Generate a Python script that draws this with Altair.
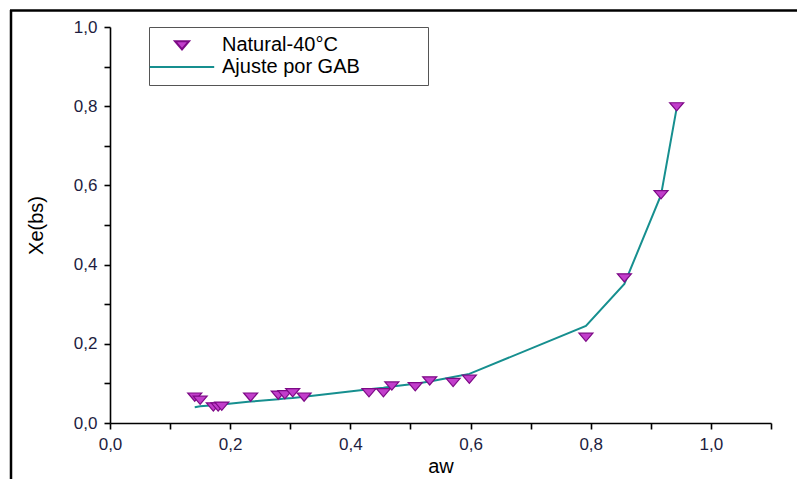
import altair as alt
import pandas as pd

# ---- data ----
aw_obs = [0.141, 0.150, 0.172, 0.180, 0.186, 0.234, 0.280, 0.291, 0.304, 0.323,
          0.431, 0.455, 0.469, 0.508, 0.532, 0.571, 0.598, 0.792, 0.856, 0.917, 0.943]
xe_obs = [0.066, 0.058, 0.041, 0.041, 0.043, 0.066, 0.071, 0.072, 0.077, 0.066,
          0.077, 0.077, 0.094, 0.092, 0.107, 0.103, 0.111, 0.217, 0.367, 0.577, 0.799]
aw_fit = [0.141, 0.150, 0.172, 0.180, 0.186, 0.234, 0.280, 0.291, 0.304, 0.323,
          0.431, 0.455, 0.469, 0.508, 0.532, 0.571, 0.598, 0.792, 0.856, 0.917, 0.943]
xe_fit = [0.040, 0.042, 0.045, 0.046, 0.047, 0.054, 0.060, 0.062, 0.063, 0.066,
          0.085, 0.089, 0.092, 0.099, 0.105, 0.116, 0.124, 0.245, 0.351, 0.576, 0.795]
series_names = ["Natural-40°C", "Ajuste por GAB"]
x_ticks = [0.0, 0.1, 0.2, 0.3, 0.4, 0.5, 0.6, 0.7, 0.8, 0.9, 1.0, 1.1]
y_ticks = [0.0, 0.1, 0.2, 0.3, 0.4, 0.5, 0.6, 0.7, 0.8, 0.9, 1.0]

pts = pd.DataFrame({"aw": aw_obs, "xe": xe_obs, "series": series_names[0]})
fit = pd.DataFrame({"aw": aw_fit, "xe": xe_fit, "series": series_names[1]})

PURPLE_FILL = "#c23ecb"
PURPLE_EDGE = "#7d0a86"
TEAL = "#168f8f"
TRI = "M-1,-0.55L1,-0.55L0,0.62Z"
LINE_SYM = "M-4.6,0L4.6,0"
NBSP = "\u00a0"
BLANK = "\u2800"

lab_expr = "round(datum.value*10) % 2 == 0 ? replace(format(datum.value, '.1f'), '.', ',') : ''"

x_enc = alt.X("aw:Q", scale=alt.Scale(domain=[0, 1.1], nice=False, zero=False),
              axis=alt.Axis(values=x_ticks, labelExpr=lab_expr, title="aw", labelPadding=7,
                            titlePadding=4, grid=False, labelFlush=False))
y_enc = alt.Y("xe:Q", scale=alt.Scale(domain=[0, 1.0], nice=False),
              axis=alt.Axis(values=y_ticks, labelExpr=lab_expr, title="Xe(bs)", labelPadding=7,
                            titlePadding=27, grid=False, labelFlush=False))

dom = series_names
leg = alt.Legend(title=NBSP, titleOrient="left", titleFontSize=20, titlePadding=15,
                 labelLimit=400, labelExpr="datum.label + '" + BLANK * 4 + "'")
stroke_enc = alt.Stroke("series:N", scale=alt.Scale(domain=dom, range=[PURPLE_EDGE, TEAL]), legend=leg)

points = alt.Chart(pts).mark_point(filled=False, opacity=1, fillOpacity=1, strokeWidth=1.2, size=196).encode(
    x=x_enc, y=y_enc,
    fill=alt.Fill("series:N", scale=alt.Scale(domain=dom, range=[PURPLE_FILL, "transparent"]), legend=leg),
    stroke=stroke_enc,
    shape=alt.Shape("series:N", scale=alt.Scale(domain=dom, range=[TRI, LINE_SYM]), legend=leg),
)

line = alt.Chart(fit).mark_line(strokeWidth=2).encode(
    x=x_enc, y=y_enc,
    stroke=stroke_enc,
)

# outer picture frame (top and left edges)
frame_top = alt.Chart(pd.DataFrame({"k": [0]})).mark_rule(color="black", strokeWidth=2.5).encode(
    x=alt.value(-100), x2=alt.value(687), y=alt.value(-16.5))
frame_left = alt.Chart(pd.DataFrame({"k": [0]})).mark_rule(color="black", strokeWidth=2.5).encode(
    x=alt.value(-99), y=alt.value(-17), y2=alt.value(452))

chart = alt.layer(line, points, frame_top, frame_left).properties(
    width=661, height=396,
    autosize=alt.AutoSizeParams(type="none"),
    padding={"left": 110, "top": 27, "right": 26, "bottom": 56},
    background="white",
).configure_view(stroke=None).configure_axis(
    domainColor="black", domainWidth=1.6, tickColor="black", tickWidth=1.6, tickSize=6,
    labelFont="Liberation Sans", labelFontSize=17, labelColor="#1d1d40",
    titleFont="Liberation Sans", titleFontSize=20, titleFontWeight="normal", titleColor="black",
).configure_legend(
    orient="none", legendX=39, legendY=0, strokeColor="#555555", fillColor="white",
    padding=8, labelFont="Liberation Sans", labelFontSize=20, labelColor="black",
    labelOffset=30, rowPadding=2, symbolStrokeWidth=2, symbolSize=196,
)

chart.save("out.html", embed_options={"renderer": "svg", "actions": False})
